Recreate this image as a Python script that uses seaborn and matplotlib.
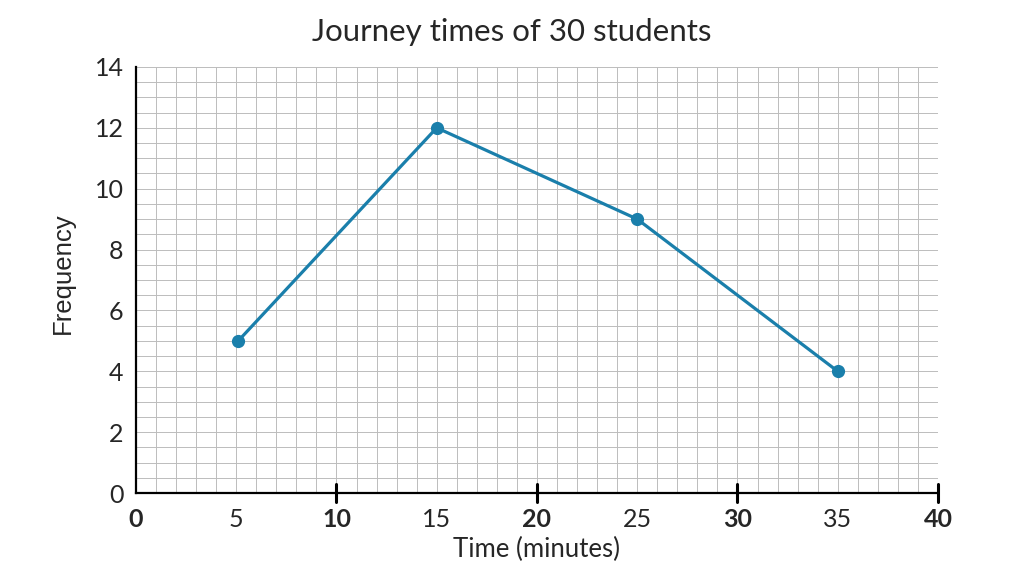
import matplotlib
matplotlib.use("Agg")
import matplotlib.pyplot as plt
from matplotlib.ticker import MultipleLocator
import pandas as pd
import seaborn as sns

# frequency polygon: class midpoints and counts
time_minutes = [5.1, 15, 25, 35]
frequency = [5, 12, 9, 4]

x_ticks = [0, 5, 10, 15, 20, 25, 30, 35, 40]
y_ticks = [0, 2, 4, 6, 8, 10, 12, 14]

polygon = pd.DataFrame({"time": time_minutes, "frequency": frequency})

sns.set_theme(style="white")
plt.rcParams["font.family"] = ["Lato", "DejaVu Sans"]

fig = plt.figure(figsize=(10.24, 5.72), dpi=100)
ax = fig.add_axes([0.1328, 0.138, 0.7832, 0.745])

line_colour = "#1a7fab"
sns.lineplot(data=polygon, x="time", y="frequency", ax=ax, color=line_colour,
             linewidth=2.3, marker="o", markersize=9.5, markeredgewidth=0,
             zorder=5)

ax.set_xlim(0, 40)
ax.set_ylim(0, 14)

# graph paper
ax.xaxis.set_minor_locator(MultipleLocator(1))
ax.yaxis.set_minor_locator(MultipleLocator(0.5))
ax.grid(which="both", color="#bcbcbc", linewidth=0.7, zorder=0)
ax.set_axisbelow(True)

for side in ["top", "right"]:
    ax.spines[side].set_visible(False)
for side in ["left", "bottom"]:
    ax.spines[side].set_color("black")
    ax.spines[side].set_linewidth(1.6)
    ax.spines[side].set_zorder(4)

ax.set_xticks(x_ticks)
ax.set_yticks(y_ticks)
ax.set_xticklabels([str(t) for t in x_ticks], fontsize=18)
ax.set_yticklabels([str(t) for t in y_ticks], fontsize=18)
for t, lab in zip(x_ticks, ax.get_xticklabels()):
    if t % 10 == 0:
        lab.set_fontweight("bold")

ax.tick_params(axis="both", which="minor", length=0)
ax.tick_params(axis="x", which="major", direction="out", length=6, width=1.4,
               color="black", pad=5)
ax.tick_params(axis="y", which="major", direction="out", length=6, width=1.4,
               color="black", pad=3)

# long crossing ticks at the tens
for t in x_ticks:
    if t % 10 == 0 and t > 0:
        ax.plot([t, t], [-0.3, 0.3], color="black", linewidth=2.2,
                clip_on=False, zorder=6)

fig.text(0.5, 1 - 32 / 572, "Journey times of 30 students", fontsize=22.5,
         ha="center", va="center")
ax.set_xlabel("Time (minutes)", fontsize=18.5, labelpad=4)
ax.set_ylabel("Frequency", fontsize=18.5, labelpad=14,
              family=["Liberation Sans", "DejaVu Sans"])
ax.yaxis.label.set_y(0.515)

fig.savefig("out.png", dpi=100)
